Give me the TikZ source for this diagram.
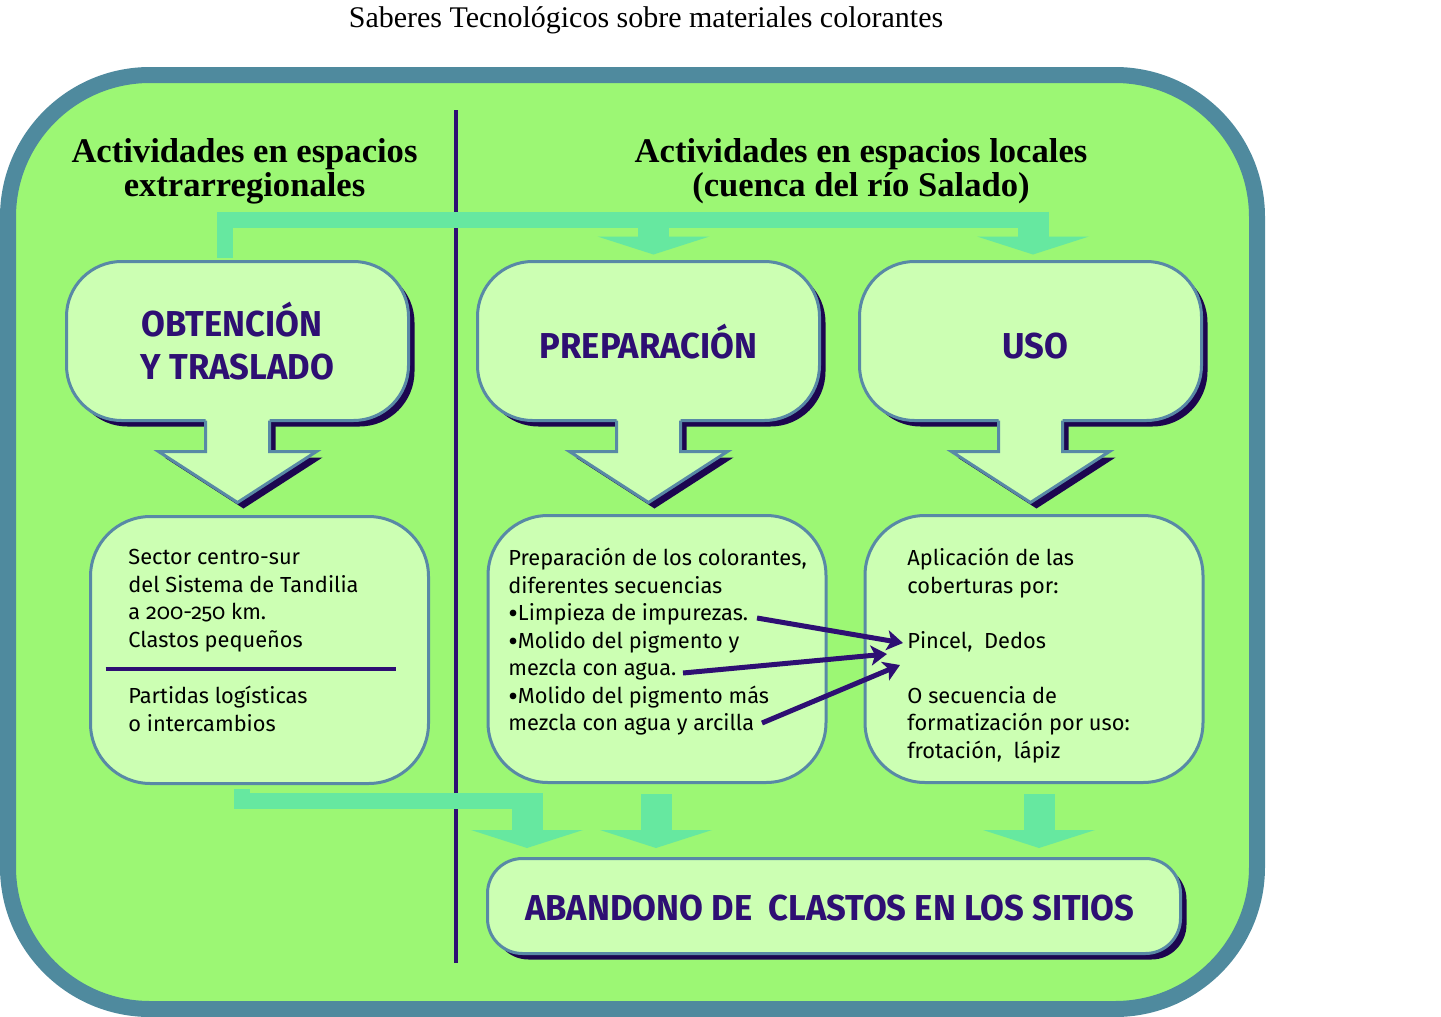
\documentclass[tikz,border=0pt]{standalone}
\usepackage{fontspec}
\setmainfont{Liberation Serif}
\newfontfamily\bodyfont{Fira Sans}[Numbers=OldStyle]
\newfontfamily\boxfont{Fira Sans}[FakeStretch=0.96]
\usepackage{tikz}
\usepackage{xcolor}
\usepackage{graphicx}
\usetikzlibrary{calc,arrows.meta,shadows}

\definecolor{framec}{HTML}{4F8A9E}
\definecolor{greenbg}{HTML}{9CF774}
\definecolor{boxfill}{HTML}{CCFFB3}
\definecolor{boxline}{HTML}{5889A6}
\definecolor{shadowc}{HTML}{1C0650}
\definecolor{purplet}{HTML}{2E0F73}
\definecolor{bandc}{HTML}{66E8A0}

\newcommand{\vineta}{\raisebox{-0.25ex}{\scalebox{1.35}{•}}}

\tikzset{
  boxshadow/.style={drop shadow={shadow xshift=3pt,shadow yshift=-3pt,fill=shadowc,opacity=1}},
  callbox/.style={draw=boxline, fill=boxfill, line width=1.5pt, rounded corners=27.5pt,
    minimum width=171pt, minimum height=79.5pt, inner sep=0pt, outer sep=0pt, align=center,
    text=purplet, font=\boxfont\bfseries\fontsize{18pt}{21.5pt}\selectfont, boxshadow},
  onetitle/.style={text height=17pt, text depth=0pt},
  endbox/.style={callbox, rounded corners=17.5pt, minimum width=346.5pt, minimum height=47.5pt},
  lowbox/.style={draw=boxline, fill=boxfill, line width=1.5pt, rounded corners=30pt,
    minimum width=169pt, minimum height=133.5pt, inner sep=0pt, outer sep=0pt},
  bodytxt/.style={anchor=north west, inner sep=0pt, align=left,
    font=\bodyfont\fontsize{10.9pt}{13.75pt}\selectfont},
  headtxt/.style={align=center, inner sep=0pt, font=\bfseries\fontsize{17.3pt}{17pt}\selectfont},
  band/.style={draw=bandc, line width=8pt},
  stemarrow/.style={draw=bandc, line width=15.5pt, -{Triangle[width=56pt,length=9pt,line width=0pt]}},
  pointer/.style={draw=purplet, line width=2.5pt, -{Stealth[length=8pt,width=10pt,inset=2pt]}}
}

\begin{document}
\begin{tikzpicture}[x=0.5pt, y=-0.5pt]
	\useasboundingbox (0,0) rectangle (1441,1017);
	\node[font=\fontsize{15pt}{17pt}\selectfont] (title) at (646,20) {Saberes Tecnológicos sobre materiales colorantes};

	% marco
	\draw[framec, line width=8pt, fill=greenbg, rounded corners=71pt] (8,75) rectangle (1257,1009);
	\draw[purplet, line width=2pt] (456,110) -- (456,963);
	\node[headtxt] (headext) at (244.5,171) {Actividades en espacios\\extrarregionales};
	\node[headtxt] (headloc) at (861,171) {Actividades en espacios locales\\(cuenca del río Salado)};

	% cajas de arriba
	\node[callbox] (obt) at (237.5,341) {OBTENCIÓN\hspace*{5.5pt}\\Y TRASLADO};
	\node[callbox, onetitle] (prep) at (648.5,341) {PREPARACIÓN};
	\node[callbox, onetitle] (uso) at (1030.5,341) {\hspace*{5pt}USO};
	\foreach \n in {obt,prep,uso}{
		\begin{scope}[shift={(\n.south)}]
			\fill[shadowc] (-26,3) -- (-26,37) -- (-73,37) -- (6,88) -- (85,37) -- (38,37) -- (38,3) -- cycle;
			\fill[boxfill] (-32,-3) -- (-32,31) -- (-79,31) -- (0,82) -- (79,31) -- (32,31) -- (32,-3) -- cycle;
			\draw[boxline, line width=1.5pt] (-32,0) -- (-32,31) -- (-79,31) -- (0,82) -- (79,31) -- (32,31) -- (32,0);
		\end{scope}
	}
	\draw[band] ($(obt.north)+(-12.5,-4)$) |- ($(uso.north)+(18.5,-42)$);
	\draw[stemarrow] ($(prep.north)+(5,-50)$) -- ($(prep.north)+(5,-7)$);
	\draw[stemarrow] ($(uso.north)+(2.5,-50)$) -- ($(uso.north)+(2.5,-7)$);

	% cajas de abajo
	\node[lowbox] (sector) at (259.5,650) {};
	\node[lowbox] (secuencias) at (657,649) {};
	\node[lowbox] (aplicacion) at (1034,649) {};
	\node[bodytxt] (sectortxt) at (128,549) {Sector centro-sur\\del Sistema de Tandilia\\a 200-250 km.\\Clastos pequeños};
	\draw[purplet, line width=2pt] ($(sector.west)+(15,19)$) -- ($(sector.east)+(-33,19)$);
	\node[bodytxt] (partidastxt) at (128,686) {Partidas logísticas\\o intercambios};
	\node[bodytxt] (secuenciastxt) at (508,548) {Preparación de los colorantes,\\diferentes secuencias\\\vineta Limpieza de impurezas.\\\vineta Molido del pigmento y\\mezcla con agua.\\\vineta Molido del pigmento más\\mezcla con agua y arcilla};
	\node[bodytxt] (aplicaciontxt) at (907,548) {Aplicación de las\\coberturas por:\\[13.75pt]Pincel,~~Dedos\\[13.75pt]O secuencia de\\formatización por uso:\\frotación,~~lápiz};

	\coordinate (limpieza) at (757,618);
	\coordinate (agua) at (683,673);
	\coordinate (arcilla) at (762,723);
	\coordinate (pincel) at (903,643);
	\coordinate (pincelb) at (887,654);
	\coordinate (pincelc) at (900,665);
	\draw[pointer] (limpieza) -- (pincel);
	\draw[pointer] (agua) -- (pincelb);
	\draw[pointer] (arcilla) -- (pincelc);

	% abandono
	\node[endbox, onetitle, text height=14.5pt] (abandono) at (834,906) {ABANDONO DE~~CLASTOS EN LOS SITIOS\hspace*{4pt}};
	\draw[band] ($(sector.south)+(-17.5,5.5)$) |- ($(abandono.north)+(-291,-57.5)$);
	\draw[stemarrow] ($(abandono.north)+(-307,-65.5)$) -- ($(abandono.north)+(-307,-10.5)$);
	\draw[stemarrow] ($(secuencias.south)+(-1,11.5)$) -- ($(secuencias.south |- abandono.north)+(-1,-10.5)$);
	\draw[stemarrow] ($(aplicacion.south)+(5,11.5)$) -- ($(aplicacion.south |- abandono.north)+(5,-10.5)$);
\end{tikzpicture}
\end{document}
